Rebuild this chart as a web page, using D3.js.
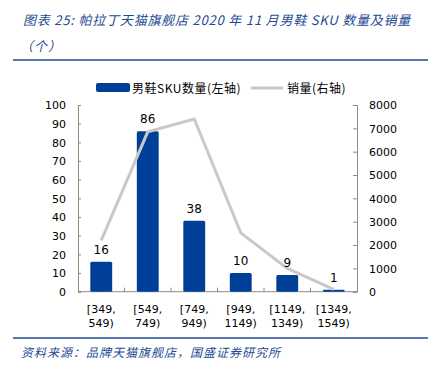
<!DOCTYPE html>
<meta charset="utf-8">
<script src="https://d3js.org/d3.v7.min.js"></script>
<style>
  body { margin: 0; background: #fff; }
  text { font-family: "DejaVu Sans", Verdana, sans-serif; }
  .cjk { font-family: "Noto Sans CJK SC", sans-serif; }
</style>
<body>
<div id="vis"></div>
<script>
// data
var categories = [["[349,", "549)"], ["[549,", "749)"], ["[749,", "949)"], ["[949,", "1149)"], ["[1149,", "1349)"], ["[1349,", "1549)"]];
var skuCount = [16, 86, 38, 10, 9, 1];
var sales = [2200, 6850, 7400, 2520, 1000, 100];
var leftTicks = [0, 10, 20, 30, 40, 50, 60, 70, 80, 90, 100];
var rightTicks = [0, 1000, 2000, 3000, 4000, 5000, 6000, 7000, 8000];

var W = 434, H = 371;
var blue = "#003f98", navy = "#1e4a94", grey = "#c9c9c9", axisCol = "#8c8c8c";
var plot = {left: 78, right: 357, top: 105, bottom: 291.7};

var svg = d3.select("#vis").append("svg")
  .attr("width", W).attr("height", H);

// header
svg.append("text").attr("class", "cjk")
  .attr("x", 23).attr("y", 25)
  .attr("font-size", "13px").attr("font-style", "italic")
  .attr("letter-spacing", "0.8px")
  .attr("fill", navy)
  .text("图表 25:  帕拉丁天猫旗舰店 2020 年 11 月男鞋 SKU 数量及销量");
svg.append("text").attr("class", "cjk")
  .attr("x", 20).attr("y", 51)
  .attr("font-size", "13px").attr("font-style", "italic")
  .attr("letter-spacing", "1px")
  .attr("fill", navy)
  .text("（个）");
svg.append("line").attr("x1", 13).attr("x2", 428).attr("y1", 60).attr("y2", 60)
  .attr("stroke", navy).attr("stroke-width", 1.5);
svg.append("line").attr("x1", 13).attr("x2", 428).attr("y1", 338).attr("y2", 338)
  .attr("stroke", navy).attr("stroke-width", 1.5);
svg.append("text").attr("class", "cjk")
  .attr("x", 21).attr("y", 357)
  .attr("font-size", "12px").attr("font-style", "italic")
  .attr("letter-spacing", "1px")
  .attr("fill", navy)
  .text("资料来源：品牌天猫旗舰店，国盛证券研究所");

// scales
var x = d3.scaleBand()
  .domain(d3.range(categories.length))
  .range([plot.left, plot.right])
  .paddingInner(0.53).paddingOuter(0.265);
var yL = d3.scaleLinear().domain([0, 100]).range([plot.bottom, plot.top]);
var yR = d3.scaleLinear().domain([0, 8000]).range([plot.bottom, plot.top]);

// left axis
var gl = svg.append("g")
  .attr("transform", "translate(" + plot.left + ",0)")
  .call(d3.axisRight(yL).tickValues(leftTicks).tickSize(3));
gl.selectAll("text").remove();
gl.selectAll("g.tick").append("text")
  .attr("x", -12).attr("dy", "0.35em")
  .attr("text-anchor", "end").attr("fill", "#000")
  .attr("font-size", "11px")
  .text(function(d) { return d; });

// right axis
var gr = svg.append("g")
  .attr("transform", "translate(" + plot.right + ",0)")
  .call(d3.axisLeft(yR).tickValues(rightTicks).tickSize(4));
gr.selectAll("text").remove();
gr.selectAll("g.tick").append("text")
  .attr("x", 12).attr("dy", "0.35em")
  .attr("text-anchor", "start").attr("fill", "#000")
  .attr("font-size", "11px")
  .text(function(d) { return d; });

[gl, gr].forEach(function(g) {
  g.select(".domain").attr("stroke", axisCol);
  g.selectAll(".tick line").attr("stroke", axisCol);
});

// bottom axis line + boundary ticks
var step = x.step();
svg.append("line")
  .attr("x1", plot.left).attr("x2", plot.right)
  .attr("y1", plot.bottom).attr("y2", plot.bottom)
  .attr("stroke", axisCol);
svg.append("g").selectAll("line")
  .data(d3.range(1, categories.length))
  .enter().append("line")
    .attr("x1", function(i) { return plot.left + i * step; })
    .attr("x2", function(i) { return plot.left + i * step; })
    .attr("y1", plot.bottom).attr("y2", plot.bottom - 4)
    .attr("stroke", axisCol);

// category labels
svg.append("g").selectAll("text")
  .data(categories)
  .enter().append("text")
    .attr("x", function(d, i) { return x(i) + x.bandwidth() / 2; })
    .attr("y", 313)
    .attr("text-anchor", "middle")
    .attr("font-size", "11px")
    .each(function(d) {
      d3.select(this).append("tspan").attr("x", d3.select(this).attr("x")).text(d[0]);
      d3.select(this).append("tspan").attr("x", d3.select(this).attr("x")).attr("dy", 14).text(d[1]);
    });

// bars
svg.append("g").selectAll("rect")
  .data(skuCount)
  .enter().append("rect")
    .attr("x", function(d, i) { return x(i); })
    .attr("y", function(d) { return yL(d); })
    .attr("width", x.bandwidth())
    .attr("height", function(d) { return plot.bottom - yL(d); })
    .attr("rx", 1.5)
    .attr("fill", blue);

// sales line
var line = d3.line()
  .x(function(d, i) { return x(i) + x.bandwidth() / 2; })
  .y(function(d) { return yR(d); });
svg.append("path")
  .datum(sales)
  .attr("d", line)
  .attr("fill", "none")
  .attr("stroke", grey)
  .attr("stroke-width", 3);

// bar labels
svg.append("g").selectAll("text")
  .data(skuCount)
  .enter().append("text")
    .attr("x", function(d, i) { return x(i) + x.bandwidth() / 2; })
    .attr("y", function(d) { return yL(d) - 8; })
    .attr("text-anchor", "middle")
    .attr("font-size", "12px")
    .text(function(d) { return d; });

// legend
svg.append("rect").attr("x", 96).attr("y", 83).attr("width", 34).attr("height", 9)
  .attr("rx", 2).attr("fill", blue);
svg.append("text").attr("class", "cjk")
  .attr("x", 132).attr("y", 92.5)
  .attr("font-size", "12px")
  .attr("letter-spacing", "0.5px")
  .text("男鞋SKU数量(左轴)");
svg.append("line").attr("x1", 251).attr("x2", 283).attr("y1", 88).attr("y2", 88)
  .attr("stroke", grey).attr("stroke-width", 3);
svg.append("text").attr("class", "cjk")
  .attr("x", 287).attr("y", 92.5)
  .attr("font-size", "12px")
  .attr("letter-spacing", "0.5px")
  .text("销量(右轴)");
</script>
</body>
